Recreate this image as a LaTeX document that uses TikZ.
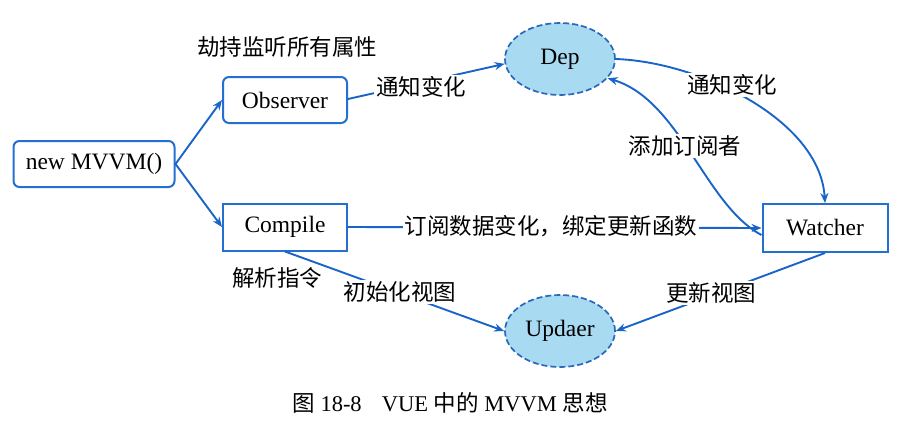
\documentclass[tikz,border=0pt]{standalone}
\usepackage{fontspec}
\setmainfont{Liberation Serif}
\newfontfamily\cjk{Noto Sans CJK SC}
\usetikzlibrary{arrows.meta,shapes.geometric}
\definecolor{boxblue}{RGB}{35,112,210}
\definecolor{lineblue}{RGB}{25,100,200}
\definecolor{elfill}{RGB}{168,218,242}
\definecolor{elline}{RGB}{40,105,185}
\begin{document}
\begin{tikzpicture}[x=1pt,y=-1pt,
  txt/.style={font=\fontsize{23.5}{28}\selectfont, inner sep=1pt},
  rbox/.style={txt, draw=boxblue, line width=2pt, rounded corners=6pt, fill=white},
  sbox/.style={txt, draw=boxblue, line width=2pt, fill=white},
  ell/.style={txt, ellipse, draw=elline, dash pattern=on 6pt off 3pt, line width=1.7pt, fill=elfill, minimum width=110pt, minimum height=72pt, inner sep=0pt},
  lbl/.style={font=\fontsize{22.5}{26}\selectfont\cjk, inner sep=2pt, fill=white},
  plain/.style={font=\fontsize{22.5}{26}\selectfont\cjk, inner sep=1pt},
  conn/.style={draw=lineblue, line width=1.9pt, -{Stealth[length=10pt,width=8pt]}}
]
\useasboundingbox (0,0) rectangle (900,432);

\node[rbox, minimum width=161pt, minimum height=46pt] (mvvm) at (94,164) {new MVVM()};
\node[rbox, minimum width=124pt, minimum height=46pt] (obs) at (285,100) {Observer};
\node[sbox, minimum width=124pt, minimum height=47pt] (comp) at (285,227) {Compile};
\node[sbox, minimum width=125pt, minimum height=48pt] (wat) at (825,228) {Watcher};
\node[ell] (dep) at (560,59) {Dep};
\node[ell] (upd) at (560,331) {Updaer};

% connectors
\draw[conn] (mvvm.east) -- (obs.west);
\draw[conn] (mvvm.east) -- (comp.west);
\draw[conn] ([yshift=1pt]obs.east) -- (dep.185);
\draw[conn] (comp.east) -- (wat.west);
\draw[conn] (comp.south) -- (upd.west);
\draw[conn] (wat.south) -- (upd.east);
\draw[conn] (dep.east) .. controls (700,62) and (820,120) .. (wat.north);
\draw[conn] ([yshift=-7pt]wat.west) .. controls (705,205) and (680,100) .. (dep.-22);

% labels
\node[plain] (l1) at (287,47) {劫持监听所有属性};
\node[lbl] (l2) at (421,87) {通知变化};
\node[lbl] (l3) at (732,85) {通知变化};
\node[lbl] (l4) at (685,146) {添加订阅者};
\node[lbl] (l5) at (551,226) {订阅数据变化，绑定更新函数};
\node[plain] (l6) at (277,278) {解析指令};
\node[lbl] (l7) at (400,292) {初始化视图};
\node[lbl] (l8) at (711,293) {更新视图};

\node[font=\fontsize{22.5}{26}\selectfont, inner sep=0pt] (cap) at (450,403) {{\cjk 图} 18-8\hspace{0.9em}VUE {\cjk 中的} MVVM {\cjk 思想}};
\end{tikzpicture}
\end{document}
